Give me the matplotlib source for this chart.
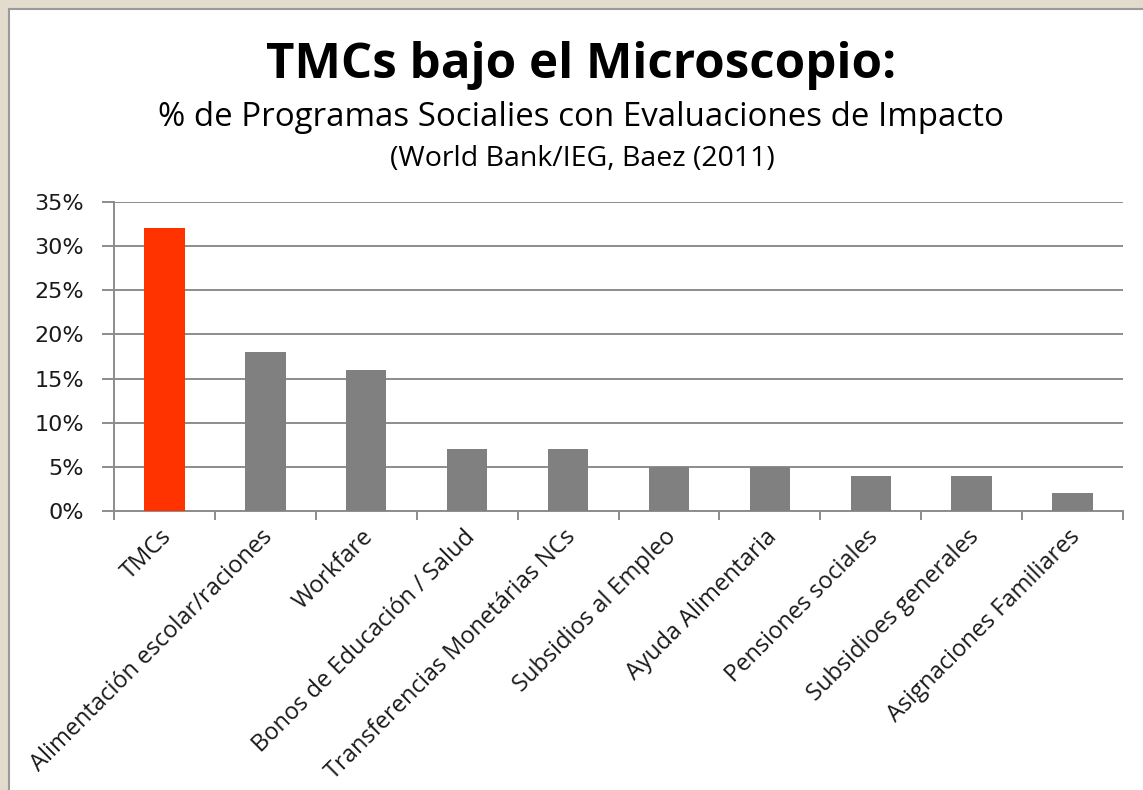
import matplotlib.pyplot as plt
import matplotlib.transforms as mtransforms
from matplotlib.patches import Rectangle
from matplotlib.ticker import PercentFormatter

categories = ["TMCs", "Alimentación escolar/raciones", "Workfare", "Bonos de Educación / Salud",
              "Transferencias Monetárias NCs", "Subsidios al Empleo", "Ayuda Alimentaria",
              "Pensiones sociales", "Subsidioes generales", "Asignaciones Familiares"]
values = [32, 18, 16, 7, 7, 5, 5, 4, 4, 2]
colors = ["#FF3300"] + ["#808080"] * 9
yticks = [0, 5, 10, 15, 20, 25, 30, 35]

W, H = 1143, 790
fig = plt.figure(figsize=(W / 100, H / 100), dpi=100)
fig.patch.set_facecolor("#E3DBCD")

# white chart area inside the window frame
frame = Rectangle((9 / W, -0.01), 1.1, 1 - 9 / H + 0.01, transform=fig.transFigure,
                  facecolor="white", edgecolor="#9a9a9a", lw=1.5, zorder=-5)
fig.patches.append(frame)

ax = fig.add_axes([114 / W, 1 - 511 / H, (1123 - 114) / W, (511 - 202) / H])
ax.set_facecolor("none")

x = range(len(categories))
ax.bar(x, values, width=0.4, color=colors, zorder=3)

ax.set_xlim(-0.5, len(categories) - 0.5)
ax.set_ylim(0, 35)
ax.set_yticks(yticks)
ax.yaxis.set_major_formatter(PercentFormatter(decimals=0))
ax.grid(axis="y", color="#8c8c8c", lw=1.4, zorder=0)
ax.set_axisbelow(True)

for s in ["top", "right"]:
    ax.spines[s].set_visible(False)
for s in ["left", "bottom"]:
    ax.spines[s].set_color("#8c8c8c")
    ax.spines[s].set_linewidth(1.4)

ax.tick_params(axis="y", length=8.6, width=1.4, color="#8c8c8c", labelsize=16, pad=13,
               labelcolor="#1a1a1a")

# x ticks between categories
ax.set_xticks([i - 0.5 for i in range(len(categories) + 1)], minor=True)
ax.tick_params(axis="x", which="minor", length=6.5, width=1.4, color="#8c8c8c")
ax.tick_params(axis="x", which="major", length=0, labelsize=17, pad=4)
ax.set_xticks(list(x))
ax.set_xticklabels(categories, rotation=45, ha="right", va="center", rotation_mode="anchor",
                   family="Open Sans", color="#1a1a1a")
shift = mtransforms.ScaledTranslation(4 / 100, -17 / 100, fig.dpi_scale_trans)
for lab in ax.get_xticklabels():
    lab.set_transform(lab.get_transform() + shift)

fig.text(581 / W, 1 - 66 / H, "TMCs bajo el Microscopio:", ha="center", va="center",
         fontsize=35.5, fontweight="bold", family="Open Sans")
fig.text(581 / W, 1 - 117 / H, "% de Programas Socialies con Evaluaciones de Impacto",
         ha="center", va="center", fontsize=23.8, family="Open Sans")
fig.text(582 / W, 1 - 159 / H, "(World Bank/IEG, Baez (2011)", ha="center", va="center",
         fontsize=20.5, family="Open Sans")

fig.savefig("out.png", dpi=100, facecolor=fig.get_facecolor())
